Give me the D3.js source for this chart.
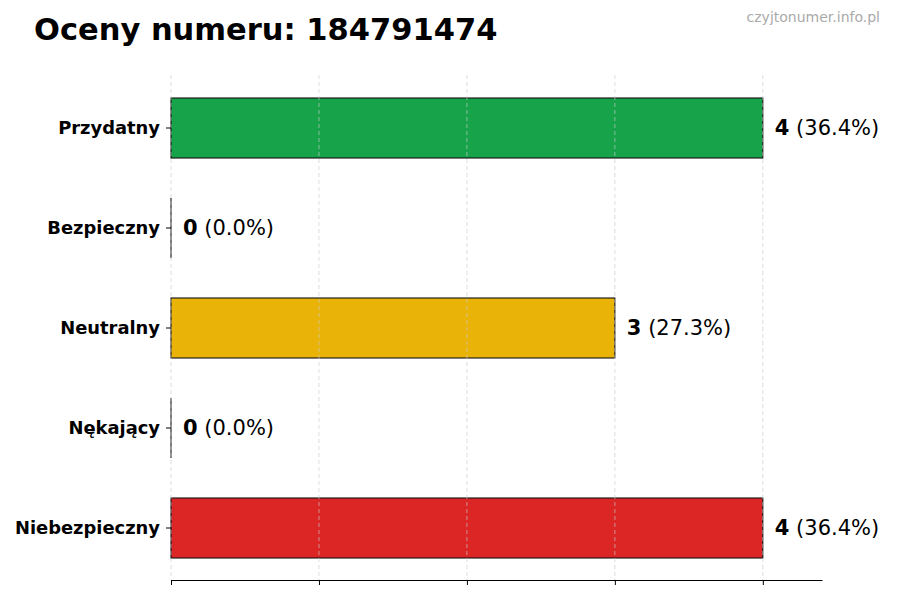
<!DOCTYPE html>
<html>
<head>
<meta charset="utf-8">
<script src="https://cdn.jsdelivr.net/npm/d3@7"></script>
<style>
  body { margin: 0; background: #fff; }
  svg { display: block; font-family: "DejaVu Sans", sans-serif; }
</style>
</head>
<body>
<svg id="chart" width="900" height="600"></svg>
<script>
var categories = ["Przydatny", "Bezpieczny", "Neutralny", "Nękający", "Niebezpieczny"];
var counts = [4, 0, 3, 0, 4];
var colors = ["#16a34a", "#9ca3af", "#eab308", "#f97316", "#dc2626"];
var xTicks = [0, 1, 2, 3, 4];

var total = d3.sum(counts);
var svg = d3.select("#chart");

var margin = {left: 171, right: 78, top: 75, bottom: 20};

var x = d3.scaleLinear()
  .domain([0, 4.4])
  .range([margin.left, 900 - margin.right]);

var y = d3.scaleBand()
  .domain(categories)
  .range([78, 578])
  .paddingInner(0.4)
  .paddingOuter(0.2);

// title and watermark
svg.append("text")
  .attr("x", 34).attr("y", 40)
  .attr("font-size", 30.5).attr("font-weight", "bold")
  .attr("fill", "#000")
  .text("Oceny numeru: 184791474");

svg.append("text")
  .attr("x", 880).attr("y", 22)
  .attr("text-anchor", "end")
  .attr("font-size", 14).attr("fill", "#aaaaaa")
  .text("czyjtonumer.info.pl");

// bars
var bars = svg.append("g");
bars.selectAll("rect")
  .data(counts)
  .join("rect")
    .attr("x", x(0))
    .attr("y", function (d, i) { return y(categories[i]); })
    .attr("width", function (d) { return x(d) - x(0); })
    .attr("height", y.bandwidth())
    .attr("fill", function (d, i) { return colors[i]; })
    .attr("stroke", "#111")
    .attr("stroke-width", 1.1);

// zero bars still show their edge
bars.selectAll("line")
  .data(counts.map(function (d, i) { return {v: d, c: categories[i]}; }).filter(function (d) { return d.v === 0; }))
  .join("line")
    .attr("x1", x(0)).attr("x2", x(0))
    .attr("y1", function (d) { return y(d.c); })
    .attr("y2", function (d) { return y(d.c) + y.bandwidth(); })
    .attr("stroke", "#111")
    .attr("stroke-width", 1.1);

// grid (drawn on top of the bars)
svg.append("g").selectAll("line")
  .data(xTicks)
  .join("line")
    .attr("x1", function (d) { return x(d); })
    .attr("x2", function (d) { return x(d); })
    .attr("y1", margin.top)
    .attr("y2", 580)
    .attr("stroke", "#cccccc")
    .attr("stroke-width", 0.8)
    .attr("stroke-dasharray", "4,3")
    .attr("opacity", 0.8);

// x axis, no labels
var xAxis = svg.append("g")
  .attr("transform", "translate(0,580)")
  .call(d3.axisBottom(x).tickValues(xTicks).tickFormat("").tickSize(5).tickSizeOuter(0));
xAxis.select(".domain").attr("stroke", "#000").attr("stroke-width", 1.2);
xAxis.selectAll(".tick line").attr("stroke", "#000");

// y axis
var yAxis = svg.append("g")
  .attr("transform", "translate(" + x(0) + ",0)")
  .call(d3.axisLeft(y).tickSize(5).tickPadding(6));
yAxis.select(".domain").remove();
yAxis.selectAll(".tick line").attr("stroke", "#000");
yAxis.selectAll(".tick text")
  .attr("font-family", "DejaVu Sans")
  .attr("font-size", 17.9)
  .attr("font-weight", "bold")
  .attr("fill", "#000");

// value labels
var labels = svg.append("g").selectAll("text")
  .data(counts)
  .join("text")
    .attr("x", function (d) { return x(d) + 12; })
    .attr("y", function (d, i) { return y(categories[i]) + y.bandwidth() / 2; })
    .attr("dy", "0.35em")
    .attr("font-size", 21)
    .attr("fill", "#000");
labels.append("tspan")
  .attr("font-weight", "bold")
  .text(function (d) { return d; });
labels.append("tspan")
  .text(function (d) { return " (" + (total ? d / total * 100 : 0).toFixed(1) + "%)"; });
</script>
</body>
</html>
